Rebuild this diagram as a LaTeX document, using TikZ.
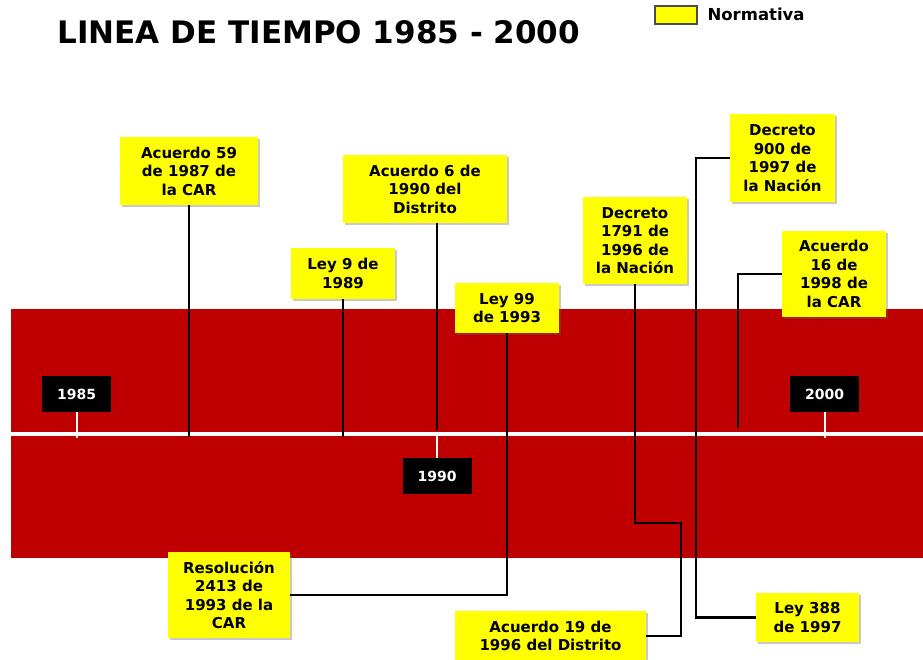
\documentclass[tikz,border=0pt]{standalone}
\usepackage{fontspec}
\setmainfont{DejaVu Sans}
\usepackage{xcolor}
\usetikzlibrary{shadows}

\definecolor{banda}{RGB}{190,0,0}
\definecolor{amarillo}{RGB}{255,255,0}

\tikzset{
  norma/.style={fill=amarillo, align=center, inner sep=0pt,
    font=\bfseries\fontsize{15}{18.5}\selectfont,
    drop shadow={shadow xshift=2pt, shadow yshift=-2pt, opacity=0.35, fill=black!60}},
  anno/.style={fill=black, text=white, minimum width=69pt, minimum height=36pt,
    inner sep=0pt, font=\bfseries\fontsize{14}{16}\selectfont},
  tallo/.style={black, line width=2.2pt},
  marca/.style={white, line width=2pt}
}

\begin{document}
\begin{tikzpicture}[x=1pt,y=-1pt]
    \useasboundingbox[fill=white] (0,0) rectangle (923,659);
    % titulo y leyenda
    \node[anchor=west, font=\bfseries\fontsize{31}{35}\selectfont] (titulo) at (54,32) {LINEA DE TIEMPO 1985 - 2000};
    \node[fill=amarillo, draw=black!70, line width=1.5pt, minimum width=42pt, minimum height=18pt, inner sep=0pt] (ley) at (676,15) {};
    \node[anchor=west, font=\bfseries\fontsize{16.5}{18}\selectfont] (leyenda) at (704,14) {Normativa};
    % banda roja y eje
    \fill[banda] (11,309) rectangle (923,558);
    \coordinate (inicio) at (11,434);
    \coordinate (fin) at (923,434);
    \draw[white, line width=4pt] (inicio) -- (fin);
    % anos
    \node[anno] (a1985) at (76.5,394) {1985};
    \node[anno] (a1990) at (437,476) {1990};
    \node[anno] (a2000) at (824.5,394) {2000};
    \draw[marca] (a1985.south) -- ++(0,26);
    \draw[marca] (a1990.north) -- ++(0,-26);
    \draw[marca] (a2000.south) -- ++(0,26);
    % normas
    \node[norma, minimum width=138pt, minimum height=68pt] (acuerdo59) at (189,171) {Acuerdo 59\\de 1987 de\\la CAR};
    \node[norma, minimum width=164pt, minimum height=68pt] (acuerdo6) at (425,189) {Acuerdo 6 de\\1990 del\\Distrito};
    \node[norma, minimum width=104pt, minimum height=51pt] (ley9) at (343,273.5) {Ley 9 de\\1989};
    \node[norma, minimum width=104pt, minimum height=50pt] (ley99) at (507,308) {Ley 99\\de 1993};
    \node[norma, minimum width=122pt, minimum height=86pt] (resolucion) at (229,595) {Resoluci\'on\\2413 de\\1993 de la\\CAR};
    \node[norma, minimum width=104pt, minimum height=87pt] (decreto1791) at (635,240.5) {Decreto\\1791 de\\1996 de\\la Naci\'on};
    \node[norma, minimum width=191pt, minimum height=50pt] (acuerdo19) at (550.5,636) {Acuerdo 19 de\\1996 del Distrito};
    \node[norma, minimum width=105pt, minimum height=88pt] (decreto900) at (782.5,158) {Decreto\\900 de\\1997 de\\la Naci\'on};
    \node[norma, minimum width=103pt, minimum height=49pt] (ley388) at (807.5,617.5) {Ley 388\\de 1997};
    \node[norma, minimum width=104pt, minimum height=86pt] (acuerdo16) at (834,274) {Acuerdo\\16 de\\1998 de\\la CAR};
    % conectores
    \coordinate (q1791) at (681,523);
    \coordinate (q900) at (696,400);
    \coordinate (q16) at (738,428);
    \draw[tallo] (acuerdo59.south) -- (acuerdo59.south |- 0,437);
    \draw[tallo] (ley9.south) -- (ley9.south |- 0,437);
    \draw[tallo] (acuerdo6.south -| a1990) -- (a1990 |- 0,430);
    \draw[tallo] (ley99.south) |- (resolucion.east);
    \draw[tallo] (decreto1791.south) |- (q1791) |- (acuerdo19.east);
    \draw[tallo] (decreto900.west) -| (q900) |- (ley388.west);
    \draw[tallo] (acuerdo16.west) -| (q16);
\end{tikzpicture}
\end{document}
